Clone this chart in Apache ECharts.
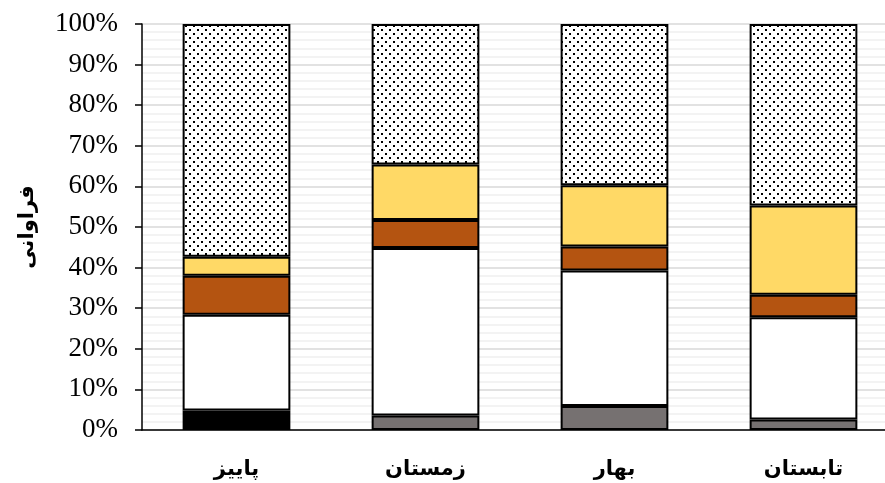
<!DOCTYPE html>
<html>
<head>
<meta charset="utf-8">
<script src="https://cdn.jsdelivr.net/npm/echarts@6/dist/echarts.min.js"></script>
<style>
  html, body { margin: 0; padding: 0; background: #fff; }
  #chart { width: 885px; height: 483px; }
</style>
</head>
<body>
<div id="chart"></div>
<script>
// Seasons along the category axis
const seasons = ['پاییز', 'زمستان', 'بهار', 'تابستان'];

// Percent share of each class per season (stacked bottom to top)
const blackPart  = [4.8, null, null, null];
const greyPart   = [null, 3.6, 5.9, 2.6];
const whitePart  = [23.6, 41.2, 33.4, 25.2];
const brownPart  = [9.6, 6.9, 5.9, 5.5];
const yellowPart = [4.7, 13.7, 15.1, 22.0];
const dottedPart = [57.3, 34.6, 39.7, 44.7];

const yTicks = [0, 10, 20, 30, 40, 50, 60, 70, 80, 90, 100];

// Dotted fill for the top segment
function dotPattern() {
  const c = document.createElement('canvas');
  c.width = 8; c.height = 8;
  const g = c.getContext('2d');
  g.fillStyle = '#ffffff';
  g.fillRect(0, 0, 8, 8);
  g.fillStyle = '#000000';
  g.fillRect(1, 1, 2, 2);
  g.fillRect(5, 5, 2, 2);
  return c;
}

const chart = echarts.init(document.getElementById('chart'), null, { renderer: 'canvas' });

const border = { borderColor: '#000', borderWidth: 2 };
function seg(name, data, color) {
  return {
    name: name,
    type: 'bar',
    stack: 'all',
    barWidth: '57%',
    data: data,
    itemStyle: Object.assign({ color: color }, border),
    emphasis: { disabled: true }
  };
}

chart.setOption({
  animation: false,
  // plot runs a little past the right edge of the canvas
  grid: {
    left: 142, top: 24, height: 406, width: 756,
    containLabel: false,
    outerBoundsMode: 'none'
  },
  xAxis: {
    type: 'category',
    data: seasons,
    axisLine: { lineStyle: { color: '#000', width: 1.5 } },
    axisTick: { show: false },
    axisLabel: {
      color: '#000',
      fontFamily: 'DejaVu Sans',
      fontWeight: 'bold',
      fontSize: 21,
      margin: 29
    }
  },
  yAxis: {
    type: 'value',
    min: yTicks[0],
    max: yTicks[yTicks.length - 1],
    interval: 10,
    name: 'فراوانی',
    nameLocation: 'middle',
    nameGap: 104,
    nameTextStyle: {
      color: '#000',
      fontFamily: 'DejaVu Sans',
      fontWeight: 'bold',
      fontSize: 21
    },
    axisLine: { show: true, lineStyle: { color: '#000', width: 1.5 } },
    axisTick: { show: true, inside: false, length: 7, lineStyle: { color: '#000', width: 1.5 } },
    axisLabel: {
      color: '#000',
      fontFamily: 'Liberation Serif',
      fontSize: 27,
      margin: 24,
      formatter: '{value}%'
    },
    splitLine: { show: true, lineStyle: { color: '#d9d9d9', width: 1.5 } },
    minorTick: { show: false, splitNumber: 5 },
    minorSplitLine: { show: true, lineStyle: { color: '#efefef', width: 1.5 } }
  },
  series: [
    seg('black', blackPart, '#000000'),
    seg('grey', greyPart, '#767171'),
    seg('white', whitePart, '#ffffff'),
    seg('brown', brownPart, '#b45411'),
    seg('yellow', yellowPart, '#ffd966'),
    seg('dotted', dottedPart, { image: dotPattern(), repeat: 'repeat' })
  ]
});
</script>
</body>
</html>
